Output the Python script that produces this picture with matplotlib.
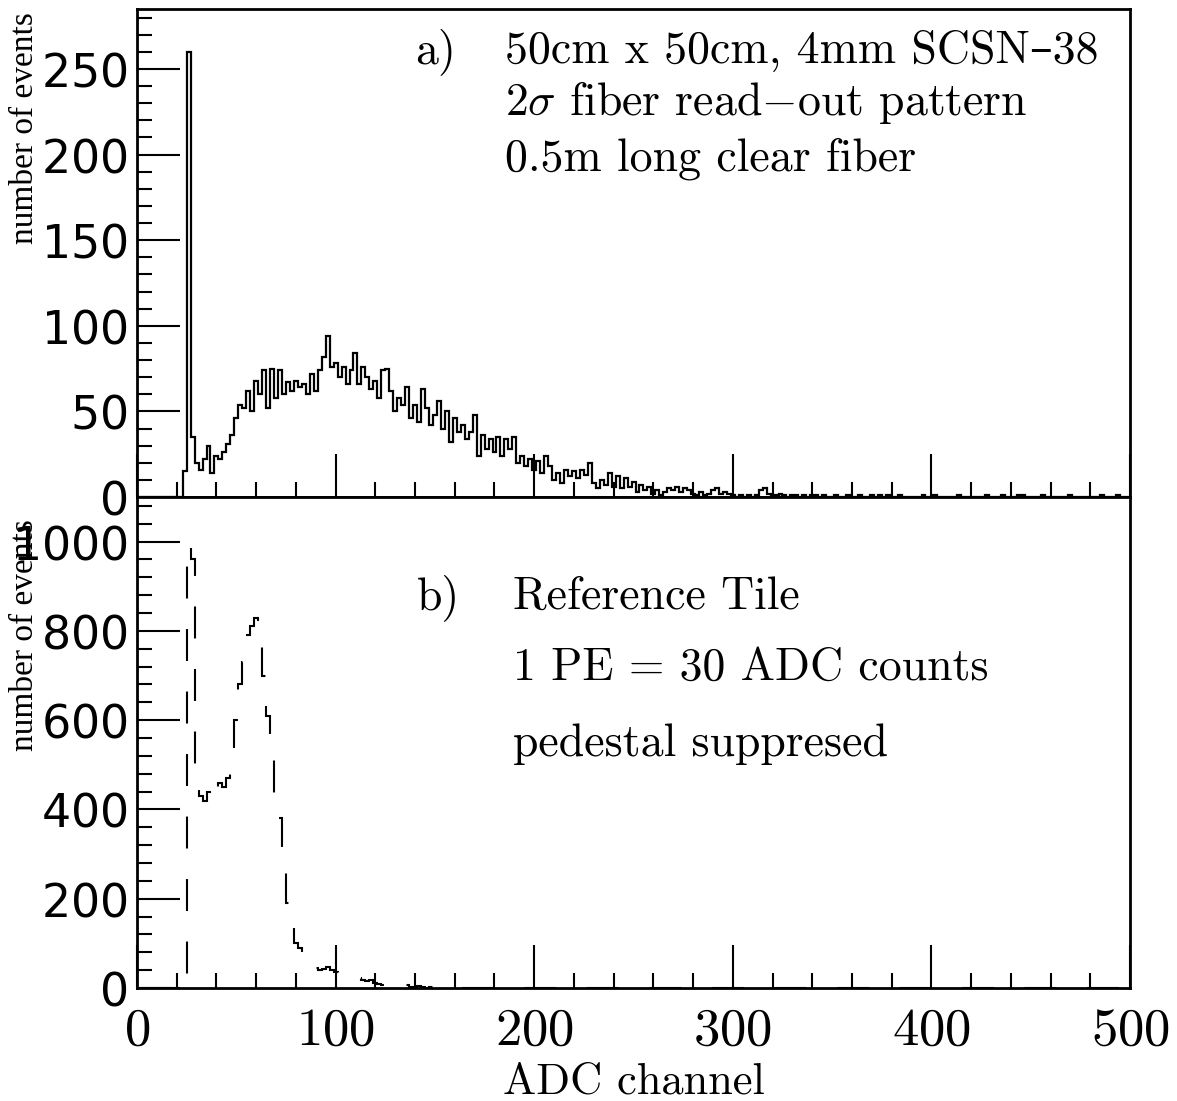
import numpy as np
import matplotlib.pyplot as plt

plt.rcParams['mathtext.fontset'] = 'cm'
plt.rcParams['lines.scale_dashes'] = False
plt.rcParams['axes.formatter.use_mathtext'] = True

# ADC channel bins, 2 channels wide
adc_edges = np.arange(1, 502, 2)

# a) 50cm x 50cm tile, counts per bin
tile_counts = [
    0, 0, 0, 0, 0, 0, 0, 0, 0, 0,
    0, 15, 260, 35, 20, 16, 22, 30, 14, 24,
    22, 26, 31, 36, 46, 54, 52, 62, 50, 68,
    60, 74, 52, 75, 58, 74, 60, 67, 62, 68,
    64, 66, 60, 72, 62, 74, 82, 94, 76, 78,
    70, 76, 66, 74, 84, 66, 76, 70, 63, 68,
    58, 74, 75, 62, 50, 58, 54, 64, 46, 54,
    44, 63, 52, 42, 48, 56, 40, 50, 32, 46,
    38, 42, 34, 38, 48, 24, 36, 28, 34, 26,
    35, 24, 34, 28, 35, 20, 24, 18, 22, 16,
    21, 14, 24, 18, 10, 14, 8, 16, 12, 15,
    11, 16, 13, 20, 8, 5, 10, 7, 14, 6,
    12, 5, 11, 6, 9, 3, 7, 4, 6, 2,
    4, 1, 3, 5, 4, 6, 3, 5, 4, 2,
    1, 3, 1, 2, 4, 5, 2, 3, 2, 1,
    0, 1, 0, 1, 0, 1, 4, 5, 2, 1,
    1, 2, 1, 0, 1, 1, 0, 1, 0, 1,
    1, 0, 1, 0, 0, 1, 0, 0, 1, 0,
    0, 1, 0, 0, 1, 0, 1, 0, 1, 0,
    0, 1, 0, 0, 0, 0, 0, 1, 0, 0,
    1, 0, 0, 0, 0, 0, 1, 0, 0, 0,
    0, 0, 0, 1, 0, 0, 0, 1, 0, 0,
    0, 1, 1, 0, 0, 0, 0, 1, 0, 0,
    0, 0, 0, 0, 1, 0, 0, 0, 0, 0,
    0, 0, 1, 0, 0, 0, 1, 0, 0, 0,
]

# b) reference tile, pedestal suppressed
ref_counts = [
    0, 0, 0, 0, 0, 0, 0, 0, 0, 0,
    0, 0, 995, 960, 500, 430, 420, 440, 450, 430,
    460, 450, 470, 480, 600, 680, 730, 790, 810, 830,
    770, 700, 610, 530, 430, 380, 300, 190, 150, 100,
    90, 70, 60, 50, 45, 40, 42, 48, 40, 35,
    30, 28, 25, 22, 20, 22, 18, 15, 17, 12,
    8, 6, 5, 8, 6, 9, 5, 7, 3, 2,
    4, 2, 1, 2, 1, 0, 1, 0, 0, 1,
    0, 0, 1, 0, 0, 0, 0, 1, 0, 0,
] + [0] * 160

adc_ticks = [0, 100, 200, 300, 400, 500]
tile_yticks = [0, 50, 100, 150, 200, 250]
ref_yticks = [0, 200, 400, 600, 800, 1000]

tile_lines = ["50cm x 50cm, 4mm SCSN\u201338",
              "2$\\sigma$ fiber read$-$out pattern",
              "0.5m long clear fiber"]
ref_lines = ["Reference Tile", "1 PE = 30 ADC counts", "pedestal suppresed"]

cm_font = ['cmr10', 'DejaVu Serif']

fig = plt.figure(figsize=(11.77, 11.01), dpi=100)
ax_a = fig.add_axes([0.1164, 0.5486, 0.8437, 0.4432])
ax_b = fig.add_axes([0.1164, 0.1026, 0.8437, 0.4460], sharex=ax_a)

ax_a.stairs(tile_counts, adc_edges, color='black', linewidth=1.6)
ax_b.stairs(ref_counts, adc_edges, color='black', linewidth=1.5,
            linestyle=(0, (23, 22)))

ax_a.set_xlim(0, 500)
ax_a.set_ylim(0, 285)
ax_b.set_ylim(0, 1100)

ax_a.set_yticks(tile_yticks)
ax_a.set_yticks(np.arange(0, 290, 10), minor=True)
ax_b.set_yticks(ref_yticks)
ax_b.set_yticks(np.arange(0, 1100, 40), minor=True)
ax_b.set_xticks(adc_ticks)
ax_b.set_xticks(np.arange(0, 501, 20), minor=True)

for ax in (ax_a, ax_b):
    for sp in ax.spines.values():
        sp.set_linewidth(2.0)
    ax.tick_params(which='both', direction='in', top=False, right=False, width=1.5)
    ax.tick_params(which='major', length=31)
    ax.tick_params(which='minor', length=11)
    ax.tick_params(axis='y', labelsize=33, labelfontfamily='DejaVu Sans', pad=7)

ax_a.tick_params(axis='x', labelbottom=False)
ax_b.tick_params(axis='x', labelsize=38, labelfontfamily='cmr10', pad=14)

ax_b.set_xlabel("ADC channel", fontsize=32, family=cm_font, labelpad=6)
ax_a.set_ylabel("number of events", fontsize=24, family='Liberation Serif')
ax_b.set_ylabel("number of events", fontsize=24, family='Liberation Serif')
ax_a.yaxis.set_label_coords(-0.098, 0.756)
ax_b.yaxis.set_label_coords(-0.098, 0.719)

ax_a.text(0.280, 0.889, "a)", transform=ax_a.transAxes, fontsize=33,
          family=cm_font, va='baseline')
for txt, yy in zip(tile_lines, [0.889, 0.783, 0.670]):
    ax_a.text(0.3706, yy, txt, transform=ax_a.transAxes, fontsize=33,
              family=cm_font, va='baseline')

ax_b.text(0.282, 0.772, "b)", transform=ax_b.transAxes, fontsize=33,
          family=cm_font, va='baseline')
for txt, yy in zip(ref_lines, [0.772, 0.627, 0.4725]):
    ax_b.text(0.3787, yy, txt, transform=ax_b.transAxes, fontsize=33,
              family=cm_font, va='baseline')

fig.savefig("out.png", dpi=100)
